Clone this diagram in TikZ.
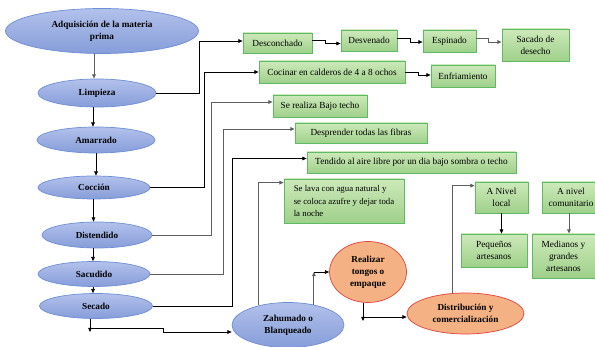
\documentclass[tikz,border=0pt]{standalone}
\usepackage{fontspec}
\setmainfont{Liberation Serif}
\usetikzlibrary{shapes.geometric,arrows.meta}
\definecolor{bluetop}{HTML}{B3C1EB}
\definecolor{bluebot}{HTML}{869DD9}
\definecolor{blueline}{HTML}{6E8ED6}
\definecolor{greentop}{HTML}{CDE9BA}
\definecolor{greenbot}{HTML}{9FD08A}
\definecolor{greenline}{HTML}{5DBB63}
\definecolor{orfill}{HTML}{F4B183}
\definecolor{orline}{HTML}{E8403A}
\definecolor{lgray}{HTML}{5E5E5E}
\begin{document}
\begin{tikzpicture}[x=1pt,y=-1pt,
  proc/.style={ellipse, draw=blueline, line width=0.7pt, top color=bluetop, bottom color=bluebot, inner sep=0pt, align=center, font=\fontsize{9.2}{12}\selectfont\bfseries},
  oproc/.style={ellipse, draw=orline, line width=0.7pt, fill=orfill, inner sep=0pt, align=center, font=\fontsize{9.2}{12}\selectfont\bfseries},
  gbox/.style={rectangle, draw=greenline, line width=0.8pt, top color=greentop, bottom color=greenbot, inner sep=1pt, align=center, font=\fontsize{9.3}{12}\selectfont},
  conn/.style={draw=black, line width=0.65pt, -{Triangle[length=4.2pt,width=3.6pt]}},
  gconn/.style={draw=lgray, line width=0.95pt, -{Triangle[length=4.2pt,width=3.6pt]}}
]
\fill[white] (0,0) rectangle (595,347);
\clip (0,0) rectangle (595,347);

% blue process ellipses
\node[proc, minimum width=193pt, minimum height=45pt] (adq) at (102,31) {Adquisición de la materia\\prima};
\node[proc, minimum width=118pt, minimum height=28pt] (limp) at (97,93) {Limpieza};
\node[proc, minimum width=118pt, minimum height=26pt] (amar) at (96,140) {Amarrado};
\node[proc, minimum width=112pt, minimum height=23pt] (cocc) at (94,187.5) {Cocción};
\node[proc, minimum width=110pt, minimum height=26pt] (dist) at (97,235) {Distendido};
\node[proc, minimum width=112pt, minimum height=25pt] (sacu) at (94,274) {Sacudido};
\node[proc, minimum width=113pt, minimum height=25pt] (seca) at (96,306) {Secado};
\node[proc, minimum width=112pt, minimum height=45pt] (zah) at (288,325) {Zahumado o\\Blanqueado};

% orange ellipses
\node[oproc, minimum width=77pt, minimum height=61pt] (real) at (368,272) {Realizar\\tongos o\\empaque};
\node[oproc, minimum width=117pt, minimum height=41pt] (distr) at (465.5,313.5) {Distribución y\\comercialización};

% green boxes
\node[gbox, minimum width=69pt, minimum height=20pt] (desc) at (277.5,43) {Desconchado};
\node[gbox, minimum width=56pt, minimum height=21pt] (desv) at (369,40.5) {Desvenado};
\node[gbox, minimum width=53pt, minimum height=22pt] (esp) at (449.5,41) {Espinado};
\node[gbox, minimum width=67pt, minimum height=32pt] (sac) at (535.5,45) {Sacado de\\desecho};
\node[gbox, minimum width=146pt, minimum height=22pt] (coci) at (332,72) {Cocinar en calderos de 4 a 8 ochos};
\node[gbox, minimum width=64pt, minimum height=22pt] (enfr) at (463,76) {Enfriamiento};
\node[gbox, minimum width=94pt, minimum height=22pt] (sebajo) at (320,106) {Se realiza Bajo techo};
\node[gbox, minimum width=132pt, minimum height=20pt] (despr) at (361,133) {Desprender todas las fibras};
\node[gbox, minimum width=209pt, minimum height=21pt] (tend) at (411.5,162.5) {Tendido al aire libre por un dia bajo sombra o techo};
\node[gbox, minimum width=120pt, minimum height=44pt, align=left, font=\fontsize{8.8}{12.3}\selectfont] (selava) at (344,201) {Se lava con agua natural y\\se coloca azufre y dejar toda\\la noche};
\node[gbox, minimum width=53pt, minimum height=31pt] (local) at (501.5,197.5) {A Nivel\\local};
\node[gbox, minimum width=58pt, minimum height=31pt] (comun) at (571,197.5) {A nivel\\comunitario};
\node[gbox, minimum width=66pt, minimum height=33pt] (peq) at (494,250.5) {Pequeños\\artesanos};
\node[gbox, minimum width=63pt, minimum height=44pt] (med) at (563.5,256) {Medianos y\\grandes\\artesanos};

% main vertical chain
\draw[gconn] ([xshift=-8pt]adq.south) -- ([xshift=-3pt]limp.north);
\draw[conn] ([xshift=-4pt]limp.south) -- ([xshift=-3pt]amar.north);
\draw[conn] (amar.south) -- ([xshift=2pt]cocc.north);
\draw[conn] ([xshift=-0.5pt]cocc.south) -- ([xshift=-3.5pt]dist.north);
\draw[conn] ([xshift=-4pt]dist.south) -- ([xshift=-1pt]sacu.north);
\draw[conn] ([xshift=-1pt]sacu.south) -- ([xshift=-3pt]seca.north);

% branches to the right
\draw[conn] (limp.east) -- ++(43,0) |- ([yshift=2pt]desc.west);
\draw[conn] (cocc.east) -- ++(54,0) |- (coci.west);
\draw[gconn] (dist.east) -- ++(59,0) |- ([yshift=4pt]sebajo.west);
\draw[gconn] (sacu.east) -- ++(73,0) |- ([yshift=4pt]despr.west);
\draw[conn] (seca.east) -- ++(79.5,0) |- ([yshift=4pt]tend.west);

% horizontal chains
\draw[conn] ([yshift=3pt]desc.east) -- ++(13,0) |- ([yshift=-3pt]desv.west);
\draw[conn] ([yshift=2.5pt]desv.east) -- ++(13,0) |- ([yshift=-1pt]esp.west);
\draw[gconn] ([yshift=3pt]esp.east) -- ++(12,0) |- ([yshift=3pt]sac.west);
\draw[conn] (coci.east) -- ++(13,0) |- ([yshift=1pt]enfr.west);

% from Secado to Zahumado
\coordinate (sdown) at (90,332);
\coordinate (sj) at (90,328);
\coordinate (sj2) at (163,332);
\draw[conn] (seca.south -| sdown) -- (sdown);
\draw[conn] (sj) -| (sj2) -- (sj2 -| zah.west);

% from Zahumado
\draw[gconn] (zah.146) |- ([yshift=-4pt]selava.north west);
\coordinate (zr) at (zah.38 |- real.west);
\draw[gconn] (zah.38) -- (zr);
\draw[conn] (zr) -- (real.west);

% from Realizar to Distribucion
\coordinate (rdown) at (363,321);
\coordinate (rj) at (363,317);
\draw[conn] (real.south -| rdown) -- (rdown);
\draw[conn] (rj) -- (rj -| distr.west);

% from Distribucion
\draw[gconn] ([xshift=-13pt]distr.north) |- ([yshift=-4pt]local.north west);
\draw[conn] (local.south) -- (local.south |- peq.north);
\coordinate (cs) at ([xshift=-2pt]comun.south);
\draw[gconn] (cs) -- (cs |- med.north);
\end{tikzpicture}
\end{document}
